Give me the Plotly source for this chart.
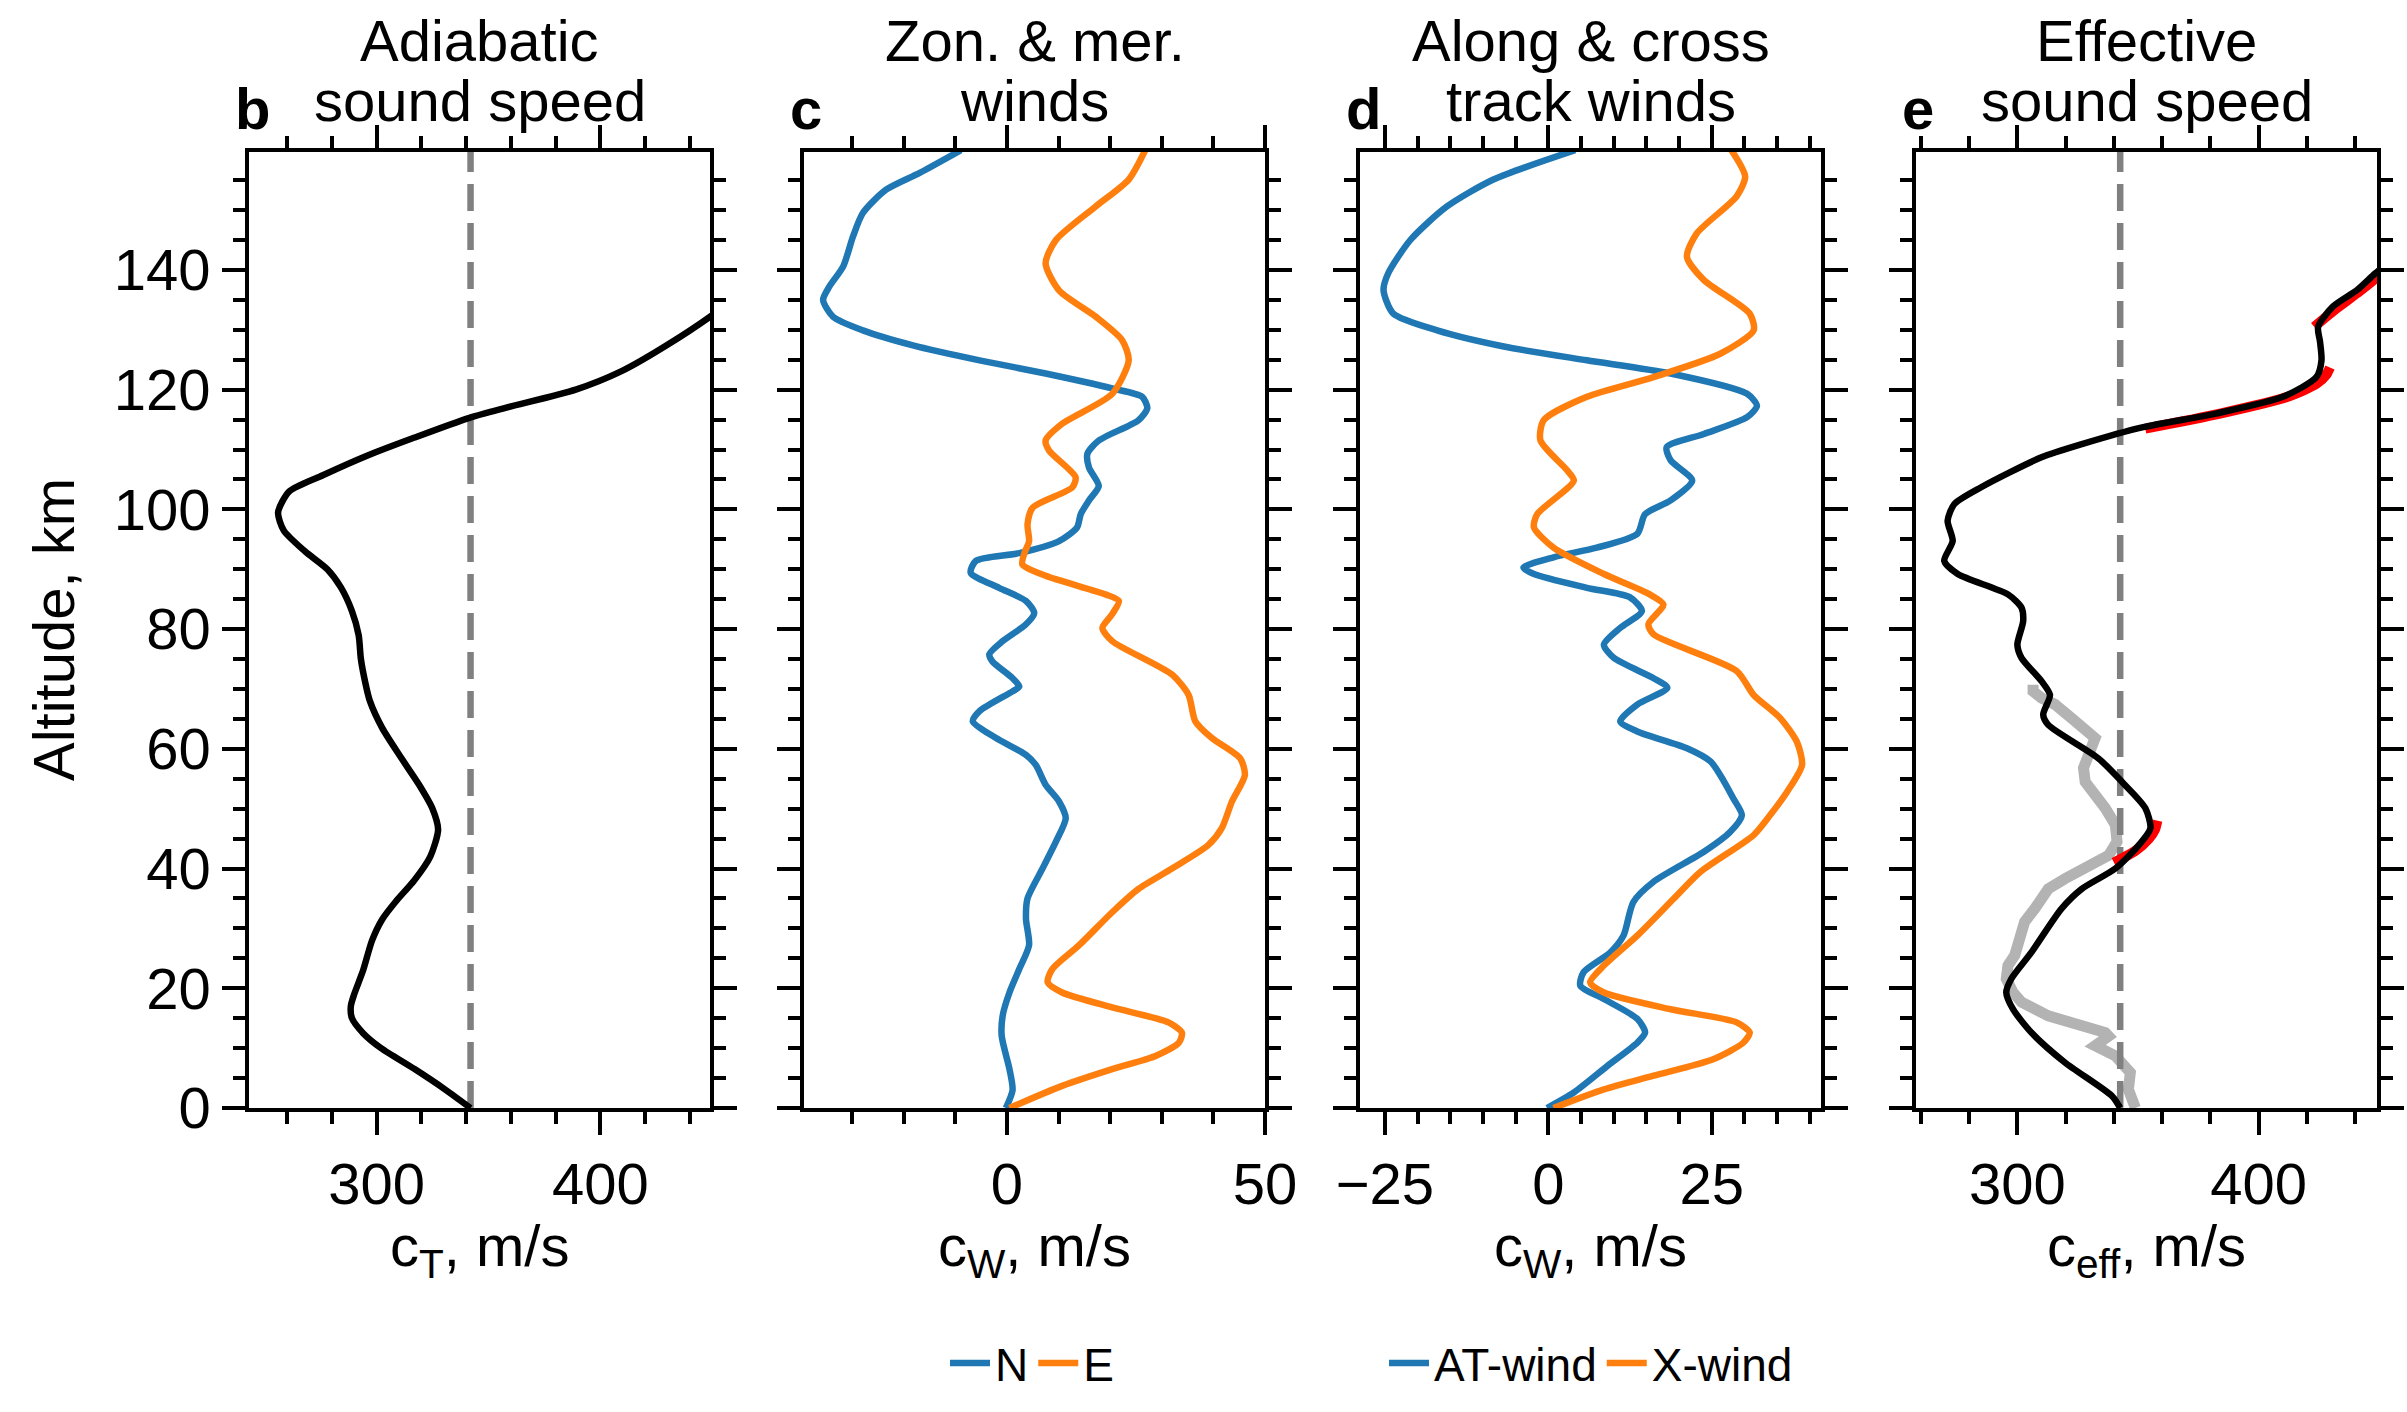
import plotly.graph_objects as go

# ---------------- data ----------------
# Panel b: adiabatic sound speed
alt_b = [0, 3, 6.5, 10, 12.5, 15, 17, 19, 23, 28, 31.5, 34.5, 38, 42, 46.5, 50, 54, 58.5, 63.5, 68,
         71, 75, 79, 83, 87, 90, 93, 96.5, 99.5, 103, 105.7, 109, 112, 115.3, 117, 120, 123, 127.5, 133, 140]
c_b = [342, 331, 317, 302, 294, 289, 288.5, 290, 294, 298, 302.5, 308.6, 316.8, 324, 327.5, 325, 319, 311, 302.5, 297,
       295, 293, 292, 289, 284, 278, 268, 258.5, 256, 261, 276, 296, 317, 341.5, 358, 389, 409, 430, 452, 475]

# Panel c: zonal & meridional winds
alt_c_N = [0, 3, 6.5, 12, 15.5, 19.3, 23.2, 27.2, 31.6, 35, 40, 44.5, 48.4, 51.2, 54, 57.3, 59, 61.8, 64.6, 66.3,
           69.6, 70.4, 71.8, 74.6, 75.8, 78, 80.8, 82.7, 84.7, 86.9, 89.4, 91.4, 92.7, 94.7, 97, 99.2, 101.5, 103.9,
           107, 109.3, 111.5, 114.9, 116.9, 118.8, 120.2, 122.7, 124.9, 127.4, 129.9, 132.2, 135, 137.2, 140.6,
           145.6, 149.5, 153.4, 156.2, 160]
c_N = [-0.2, 1.1, 0.5, -1, -0.8, 0.5, 2.4, 4.3, 3.7, 4, 6.9, 9.5, 11.4, 10.1, 7.5, 5.6, 3.7, -2.1, -6.6, -5.3,
       1.1, 2.4, 1.1, -2.8, -3.4, -0.8, 3.7, 5.3, 3.7, -1.5, -7, -6, 2.4, 10.1, 13.6, 14.3, 15.9, 17.8,
       15.9, 15.6, 17.8, 25.5, 27.2, 26.2, 20.4, 7.5, -5.3, -18.2, -27.9, -33.7, -35.6, -34.4, -31.7,
       -29.8, -27.9, -23.4, -16.9, -8.9]
alt_c_E = [0, 3.7, 6.5, 8.7, 10.9, 12.6, 14.3, 16.8, 19.3, 21, 23.2, 27.2, 32.7, 36.6, 40, 43.9, 46.7, 51.2, 55.6,
           58.4, 61.8, 64.6, 69, 72.4, 78, 80.2, 82.5, 84.7, 85.8, 88.9, 90.8, 92.7, 94.7, 97.5, 100.3, 103.7,
           105.4, 109.8, 111.5, 114.3, 119.3, 124.9, 128.3, 132.2, 136.6, 141.1, 145, 150.6, 155.1, 160]
c_E = [0.5, 10.7, 20.4, 28.8, 33.3, 33.9, 31.3, 20.4, 10.7, 7.9, 8.8, 14, 20.4, 25.5, 32, 39, 41.6, 43.6, 46.1,
       45.2, 39.7, 36.5, 35.2, 32, 20.4, 18.5, 20.4, 21.7, 19.1, 7.5, 3, 3.4, 4.3, 4, 5, 12.7,
       13.3, 8.2, 7.5, 10.7, 20.4, 23.6, 22.3, 17.2, 10.1, 7.5, 9.5, 17.2, 23.6, 26.8]

# Panel d: along & cross track winds
alt_d_AT = [0, 2.6, 7, 10.9, 12.6, 14.9, 18.2, 20.4, 22.7, 26, 28.8, 34.4, 37.8, 42.8, 46.1, 48.9, 51.7, 55.6,
            57.9, 60.1, 62.9, 64.6, 67.4, 70.2, 71.8, 75.2, 77.4, 80.2, 83, 85.3, 86.9, 89.2, 90.3, 92, 93.6,
            95.9, 99.2, 101.5, 104.8, 108.2, 110.4, 112.6, 115.4, 117.3, 119.3, 122.7, 124.9, 127.2, 129.9,
            132.7, 136.6, 139.4, 145, 150.6, 155.1, 160]
c_AT = [-0.2, 3.9, 9, 13.6, 14.8, 13.6, 8.5, 4.9, 5.4, 9.5, 11.5, 13, 16.1, 23.8, 27.8, 29.6, 28.3, 26.3,
        24.8, 21.2, 13.6, 11, 13.6, 18.2, 16.1, 10, 8.5, 11, 14.3, 12.5, 5.9, -2.2, -3.8, 0.8, 7.4,
        13.6, 14.8, 18.7, 22, 18.7, 18.1, 23.8, 30.4, 31.9, 30.4, 18.7, 5.9, -6.8, -17,
        -23.7, -25.2, -24.5, -21.1, -15.5, -8.4, 4.1]
alt_d_X = [0, 3.1, 5.4, 8.2, 10.9, 12.6, 14.3, 16.5, 19.3, 21, 23.8, 28.8, 35, 39.4, 45.6, 48.9, 52.8, 57.3,
           61.2, 65.1, 69, 73, 79.1, 80.8, 84.1, 85.8, 89.2, 93.6, 97, 99.2, 104.8, 106.5, 111.5, 114.9,
           118.8, 122.1, 126, 129.9, 132.7, 138.3, 142.2, 146.1, 152.3, 155.6, 160]
c_X = [0.8, 8.5, 16.1, 25.3, 29.8, 30.8, 28.8, 18.7, 8.5, 6.4, 8.5, 13.6, 19.2, 23.2, 31.4, 33.9, 36.5, 38.8,
       38, 35.5, 31.4, 28.8, 16.1, 15.3, 17.6, 15.5, 8.5, 0.8, -2.2, -1.7, 3.9, 2.9, -1.2, -0.7,
       5.9, 16.1, 26.3, 31.4, 30.8, 23.8, 21.2, 22.7, 28.8, 30.1, 28]

# Panel e: effective sound speed
alt_e = [0, 2, 7.6, 12.6, 16.5, 19.3, 21.6, 26, 33.3, 36.6, 40, 43.9, 46.7, 50.1, 54.5, 58.4, 64, 65.7, 69,
         71.3, 75.2, 77.4, 81.3, 83.6, 85.8, 89.2, 91.4, 94.7, 98.1, 100.9, 103.7, 108.7, 110.9, 113.7, 116,
         118.8, 122.1, 124.9, 128, 130.5, 133.9, 136.6, 139.4, 142]
c_eff = [342.6, 339.2, 319.7, 305.8, 298.2, 295.4, 297.5, 305.8, 318.3, 326.7, 340.6, 350.3, 355.1, 353, 343.3,
         333.6, 312.8, 310.7, 313.5, 310, 301.7, 300, 302.4, 301.7, 296.1, 275.3, 269.7, 273.2, 271.1, 273.9,
         285, 310, 326.7, 351.7, 382.2, 410, 423.9, 426, 425.4, 424.6, 430.8, 440.6, 448.2, 456]
alt_sonde = [0, 3.1, 5.9, 7.6, 8.7, 10.4, 12, 12.6, 14.3, 15.4, 17.7, 19.3, 21.6, 23.8, 25.5, 28.3, 31.1, 33.3,
             36.6, 38.3, 40.6, 42.2, 44.5, 47.3, 50.1, 52.3, 54.5, 56.8, 59.6, 61.8, 65.1, 67.4, 68.5, 69.6, 70.7]
c_sonde = [348.9, 346, 346.8, 343.3, 340.6, 332.2, 337.8, 336.4, 319.7, 312.8, 301.7, 298.2, 295.4, 296.1, 298.9,
           301, 303, 307.2, 312.8, 319.7, 329.4, 337.8, 341.3, 340.6, 336.4, 332.9, 328.1, 327.4, 330.1, 332.2,
           322.5, 315.6, 310, 306.5, 306.5]
# ducting segments (red)
alt_red = [[41, 43, 45, 46.5, 48], [113.5, 116, 118.8, 121, 122.5, 123.7], [130.5, 133.5, 136.5, 139.5, 141.5]]
c_red = [[340, 349, 354.5, 357, 358], [353, 384, 412, 424, 428, 429.5], [423, 432, 442, 451, 456]]

titles = [("Adiabatic", "sound speed"), ("Zon. & mer.", "winds"),
          ("Along & cross", "track winds"), ("Effective", "sound speed")]
letters = ["b", "c", "d", "e"]
xtitles = ["c<sub>T</sub>, m/s", "c<sub>W</sub>, m/s", "c<sub>W</sub>, m/s", "c<sub>eff</sub>, m/s"]
xranges = [[243, 449], [-39.3, 50], [-28.8, 41.7], [258, 449]]
xdticks = [100, 50, 25, 100]
xminor = [20, 10, 5, 20]
yrange = [0, 159.7]

BLUE = "#1f77b4"
ORANGE = "#ff7f0e"
FONT = "Liberation Sans, Arial, Helvetica, sans-serif"
LW = 6.5
DASH = "27px,12px"

fig = go.Figure()

def line(x, y, ax, color, width, name=None, legend=None, dash=None, shape="spline"):
    fig.add_trace(go.Scatter(
        x=x, y=y, xaxis="x" + ("" if ax == 1 else str(ax)), yaxis="y" + ("" if ax == 1 else str(ax)),
        mode="lines", line=dict(color=color, width=width, dash=dash, shape=shape,
                                smoothing=0.7 if shape == "spline" else None),
        name=name, showlegend=name is not None, legend=legend, hoverinfo="skip"))

# panel b
line([c_b[0], c_b[0]], [0, 160], 1, "#808080", LW, dash=DASH, shape="linear")
line(c_b, alt_b, 1, "black", LW)
# panel c
line(c_N, alt_c_N, 2, BLUE, LW, name="N", legend="legend")
line(c_E, alt_c_E, 2, ORANGE, LW, name="E", legend="legend")
# panel d
line(c_AT, alt_d_AT, 3, BLUE, LW, name="AT-wind", legend="legend2")
line(c_X, alt_d_X, 3, ORANGE, LW, name="X-wind", legend="legend2")
# panel e
line(c_sonde, alt_sonde, 4, "#b3b3b3", 11, shape="linear")
line([c_eff[0], c_eff[0]], [0, 160], 4, "#808080", LW, dash=DASH, shape="linear")
for ar, cr in zip(alt_red, c_red):
    line(cr, ar, 4, "red", 10)
line(c_eff, alt_e, 4, "black", LW)

W, H = 2407, 1412
lefts = [249, 804, 1360, 1916]
pw = 461
top_px, bot_px = 152, 1108
ydom = [1 - bot_px / H, 1 - top_px / H]

axis_common = dict(showline=True, linewidth=3.5, linecolor="black", mirror="allticks",
                   ticks="outside", ticklen=23, tickwidth=3.5, tickcolor="black",
                   showgrid=False, zeroline=False, automargin=False,
                   tickfont=dict(family=FONT, size=58, color="black"))

layout = dict(template="none", width=W, height=H, margin=dict(l=0, r=0, t=0, b=0, pad=0),
              paper_bgcolor="white", plot_bgcolor="white",
              font=dict(family=FONT, size=58, color="black"))

annotations = []
for i in range(4):
    sfx = "" if i == 0 else str(i + 1)
    dom = [lefts[i] / W, (lefts[i] + pw) / W]
    layout["xaxis" + sfx] = dict(axis_common, domain=dom, range=xranges[i], anchor="y" + sfx,
                                 tick0=0, dtick=xdticks[i],
                                 minor=dict(ticks="outside", ticklen=12, tickwidth=3.5, tickcolor="black",
                                            tick0=0, dtick=xminor[i], showgrid=False))
    layout["yaxis" + sfx] = dict(axis_common, domain=ydom, range=yrange, anchor="x" + sfx,
                                 tick0=0, dtick=20, showticklabels=(i == 0),
                                 minor=dict(ticks="outside", ticklen=12, tickwidth=3.5, tickcolor="black",
                                            tick0=0, dtick=5, showgrid=False))
    xref = "x" + sfx + " domain"
    annotations.append(dict(text=titles[i][0], xref=xref, yref="paper", x=0.5, y=1 - 40 / H,
                            xanchor="center", yanchor="middle", showarrow=False,
                            font=dict(family=FONT, size=58, color="black")))
    annotations.append(dict(text=titles[i][1], xref=xref, yref="paper", x=0.5, y=1 - 101 / H,
                            xanchor="center", yanchor="middle", showarrow=False,
                            font=dict(family=FONT, size=58, color="black")))
    annotations.append(dict(text="<b>" + letters[i] + "</b>", xref=xref, yref="paper", x=-16 / pw,
                            y=1 - 108 / H, xanchor="left", yanchor="middle", showarrow=False,
                            font=dict(family=FONT, size=58, color="black")))
    annotations.append(dict(text=xtitles[i], xref=xref, yref="paper", x=0.5, y=1 - 1250 / H,
                            xanchor="center", yanchor="middle", showarrow=False,
                            font=dict(family=FONT, size=58, color="black")))

annotations.append(dict(text="Altitude, km", xref="paper", yref="paper", x=53 / W, y=1 - 630 / H,
                        xanchor="center", yanchor="middle", textangle=-90, showarrow=False,
                        font=dict(family=FONT, size=58, color="black")))
layout["annotations"] = annotations

leg_common = dict(orientation="h", yanchor="middle", xanchor="center", y=1 - 1363 / H,
                  bgcolor="rgba(0,0,0,0)", borderwidth=0, font=dict(family=FONT, size=46, color="black"),
                  itemwidth=40, tracegroupgap=0)
layout["legend"] = dict(leg_common, x=1032 / W)
layout["legend2"] = dict(leg_common, x=1591 / W)
layout["showlegend"] = True

fig.update_layout(**layout)
fig.write_html("out.html")
